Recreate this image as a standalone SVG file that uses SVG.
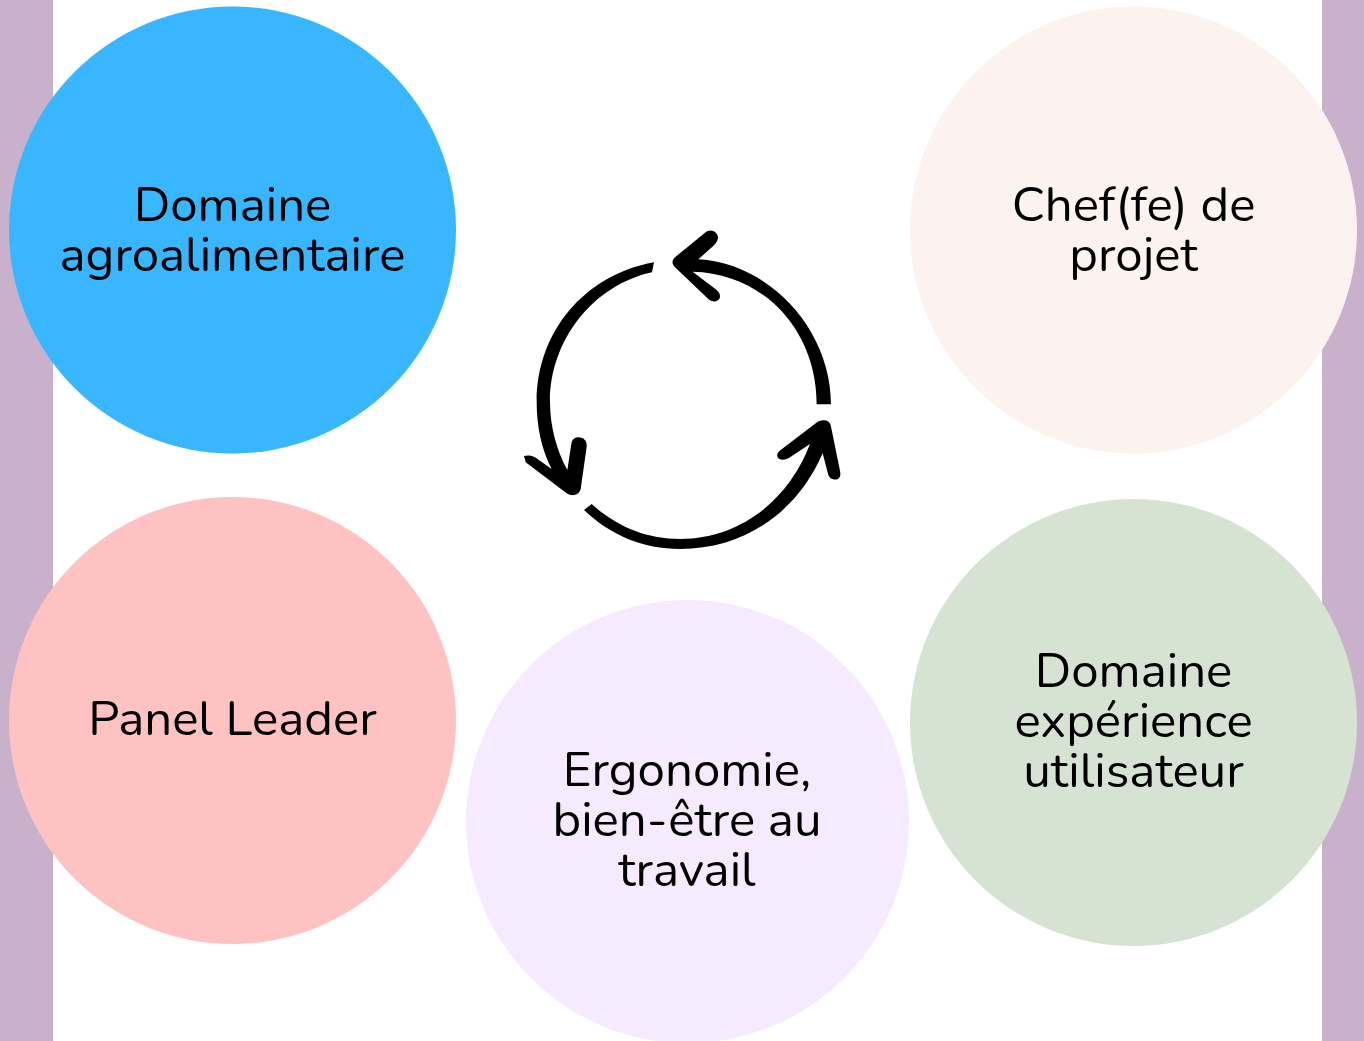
<svg xmlns="http://www.w3.org/2000/svg" width="1364" height="1041" viewBox="0 0 1364 1041">
<style>
text{font-family:"Nunito","Noto Sans","Open Sans",sans-serif;font-size:49.2px;fill:#000;text-anchor:middle}
</style>
<rect width="1364" height="1041" fill="#fff"/>
<rect x="0" y="0" width="53" height="1041" fill="#c9b1cb"/>
<rect x="1322" y="0" width="42" height="1041" fill="#c9b1cb"/>
<g id="n1"><circle cx="232.500" cy="230" r="223.500" fill="#38b6ff"/><text x="232.500" y="220.500">Domaine</text><text x="232.500" y="270.500">agroalimentaire</text></g>
<g id="n2"><circle cx="1133.500" cy="230" r="223.500" fill="#fcf2f0"/><text x="1133.500" y="220.500">Chef(fe) de</text><text x="1133.500" y="270.500">projet</text></g>
<g id="n3"><circle cx="232.500" cy="720.500" r="223.500" fill="#ffc2c2"/><text x="232.500" y="735">Panel Leader</text></g>
<g id="n4"><circle cx="687.500" cy="821.500" r="221.500" fill="#f6eafe"/><text x="687" y="785.500">Ergonomie,</text><text x="687" y="835.500">bien-être au</text><text x="687" y="885.500">travail</text></g>
<g id="n5"><circle cx="1133.500" cy="722.500" r="223.500" fill="#d7e3d2"/><text x="1133.500" y="686.500">Domaine</text><text x="1133.500" y="736.500">expérience</text><text x="1133.500" y="786.500">utilisateur</text></g>
<g id="connectors" transform="translate(510 220) scale(.33333)">
<path d="M963 553C963 330 780 130 565 118L612 76C625 62 628 50 618 39C608 29 595 30 585 38L495 112C485 122 485 132 495 142L595 237C605 246 622 248 629 235C632 225 628 217 620 210L548 155C760 160 920 330 920 553Z"/>
<path d="M222 870C300 945 400 987 510 987C700 987 860 880 938 700L955 765C960 778 975 782 985 776C992 770 992 762 990 752L962 615C958 602 945 597 925 604L812 690C800 698 798 710 808 717C818 722 830 718 840 712L900 672C840 830 700 957 510 957C410 957 320 920 245 852Z"/>
<path d="M432 127C220 165 80 340 80 545C80 620 95 690 125 747L75 712C65 706 52 705 42 708L47 727L170 820C185 830 205 828 212 808L230 680C232 662 220 652 205 652C192 652 185 662 184 672L172 750C140 690 120 620 120 545C120 360 250 195 426 157Z"/>
</g>
</svg>
